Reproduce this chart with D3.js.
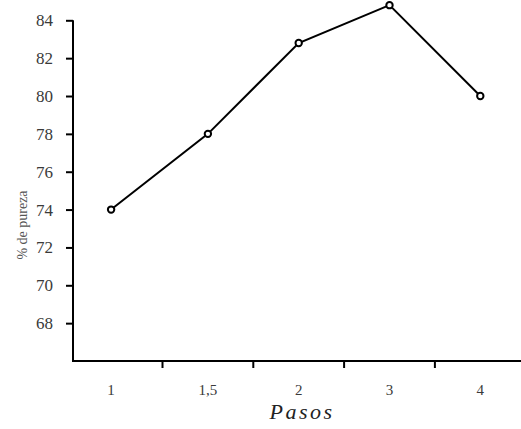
<!DOCTYPE html>
<html><head><meta charset="utf-8">
<script src="https://cdn.jsdelivr.net/npm/d3@7/dist/d3.min.js"></script>
<style>body{margin:0;background:#fff}</style>
</head><body>
<svg id="c" width="521" height="429"></svg>
<script>
const categories = ["1", "1,5", "2", "3", "4"];
const values = [74, 78, 82.8, 84.8, 80];
const yTicks = [68, 70, 72, 74, 76, 78, 80, 82, 84];
const xTitle = "Pasos";
const yTitle = "% de pureza";

const svg = d3.select("#c");
const font = "'Liberation Serif', 'DejaVu Serif', serif";
const x = d3.scaleBand().domain(categories).range([71.7, 525.7]);
const y = d3.scaleLinear().domain([66, 84]).range([361, 20.3]);
const x0 = 73;

// y axis
const ya = svg.append("g").attr("transform", `translate(${x0},0)`)
  .call(d3.axisLeft(y).tickValues(yTicks).tickSize(7).tickPadding(13).tickFormat(d3.format("d")));
ya.select(".domain").attr("d", `M0,${y(84)}V${y(66)}`).attr("stroke", "#000").attr("stroke-width", 2);
ya.selectAll(".tick line").attr("stroke", "#000").attr("stroke-width", 2);
ya.selectAll(".tick text").style("font-family", font).style("font-size", "17px").attr("fill", "#3a3a3a");

// x axis
const xa = svg.append("g").attr("transform", `translate(0,${y(66)})`);
xa.append("line").attr("x1", x0 - 1).attr("x2", 521).attr("stroke", "#000").attr("stroke-width", 2);
xa.selectAll("line.tk").data(categories.slice(1)).join("line").attr("class", "tk")
  .attr("x1", d => x(d)).attr("x2", d => x(d)).attr("y1", 0).attr("y2", 7)
  .attr("stroke", "#000").attr("stroke-width", 2);
xa.selectAll("text").data(categories).join("text")
  .attr("x", d => x(d) + x.bandwidth() / 2 + (d === "1" ? -6 : 0)).attr("y", 34)
  .attr("text-anchor", "middle").style("font-family", font).style("font-size", "15px").attr("fill", "#3a3a3a")
  .text(d => d);

svg.append("text").attr("x", 302).attr("y", 419).attr("text-anchor", "middle")
  .style("font-family", font).style("font-style", "italic").style("font-size", "22px")
  .attr("letter-spacing", 2.5).attr("fill", "#222").text(xTitle);
svg.append("text").attr("transform", "translate(27,225) rotate(-90)").attr("text-anchor", "middle")
  .style("font-family", font).style("font-size", "14px").attr("fill", "#555").text(yTitle);

const px = (d, i) => x(d) + x.bandwidth() / 2 + (i === 0 ? -6 : 0);
const line = d3.line().x(d => px(d[0], d[2])).y(d => y(d[1]));
const pts = categories.map((c, i) => [c, values[i], i]);
svg.append("path").datum(pts).attr("d", line).attr("fill", "none").attr("stroke", "#000").attr("stroke-width", 2);
svg.selectAll("circle").data(pts).join("circle")
  .attr("cx", d => px(d[0], d[2])).attr("cy", d => y(d[1])).attr("r", 3.2)
  .attr("fill", "#fff").attr("stroke", "#000").attr("stroke-width", 2);
</script>
</body></html>
